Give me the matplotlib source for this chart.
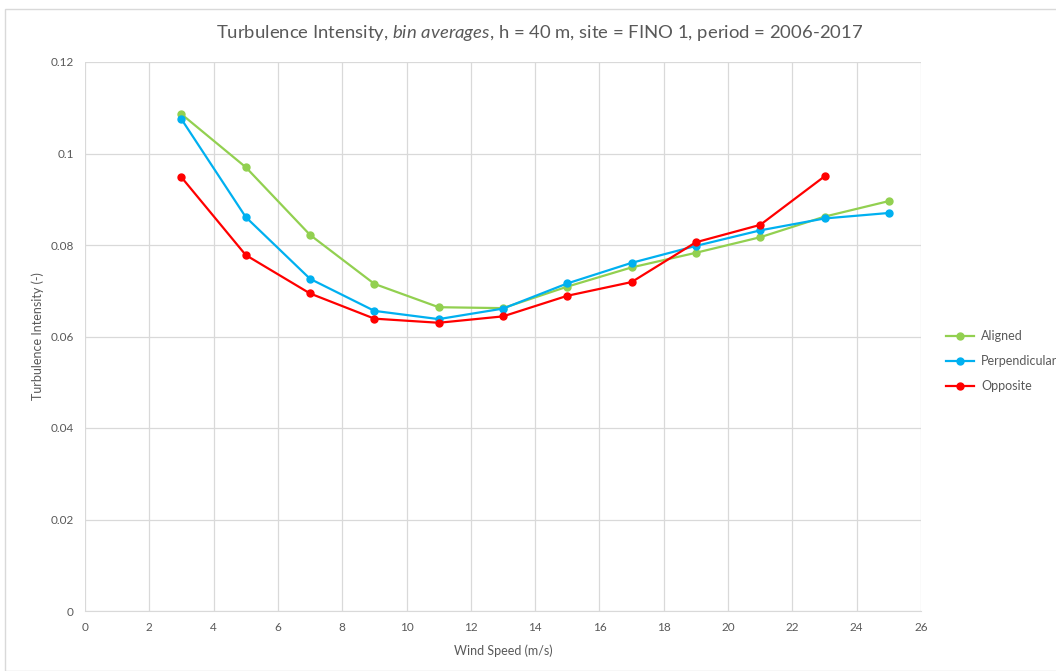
import matplotlib
matplotlib.use("Agg")
import matplotlib.pyplot as plt
from matplotlib.patches import Rectangle
from matplotlib.ticker import FuncFormatter

wind_speed = [3, 5, 7, 9, 11, 13, 15, 17, 19, 21, 23, 25]
aligned = [0.1086, 0.0970, 0.0822, 0.0715, 0.0664, 0.0662, 0.0709, 0.0751, 0.0783, 0.0817, 0.0862, 0.0896]
perpendicular = [0.1075, 0.0861, 0.0726, 0.0656, 0.0638, 0.0661, 0.0716, 0.0761, 0.0798, 0.0832, 0.0858, 0.0870]
opposite_ws = [3, 5, 7, 9, 11, 13, 15, 17, 19, 21, 23]
opposite = [0.0948, 0.0778, 0.0694, 0.0639, 0.0630, 0.0644, 0.0689, 0.0719, 0.0806, 0.0844, 0.0950]

x_ticks = list(range(0, 27, 2))
y_ticks = [0, 0.02, 0.04, 0.06, 0.08, 0.1, 0.12]

plt.rcParams['font.family'] = ['Lato', 'DejaVu Sans']
plt.rcParams['mathtext.fontset'] = 'custom'
plt.rcParams['mathtext.rm'] = 'Lato'
plt.rcParams['mathtext.it'] = 'Lato:italic'
text_color = '#595959'

fig = plt.figure(figsize=(10.56, 6.71), dpi=100)
fig.patches.append(Rectangle((5 / 1056, 0), 1.0, 1 - 9 / 671, transform=fig.transFigure,
                             fill=False, edgecolor='#D9D9D9', linewidth=1))
ax = fig.add_axes([85 / 1056, 1 - 611 / 671, (921 - 85) / 1056, (611 - 62) / 671])

series = [
    (wind_speed, aligned, '#92D050', 'Aligned'),
    (wind_speed, perpendicular, '#00B0F0', 'Perpendicular'),
    (opposite_ws, opposite, '#FF0000', 'Opposite'),
]
for xs, ys, color, label in series:
    ax.plot(xs, ys, color=color, linewidth=1.6, marker='o', markersize=5, label=label)

ax.set_xlim(0, 26)
ax.set_ylim(0, 0.12)
ax.set_xticks(x_ticks)
ax.set_yticks(y_ticks)
ax.yaxis.set_major_formatter(FuncFormatter(lambda v, p: '0' if v == 0 else f'{v:g}'))
ax.grid(True, color='#D9D9D9', linewidth=0.9)
ax.set_axisbelow(True)
for side in ['top', 'right', 'left']:
    ax.spines[side].set_visible(False)
ax.spines['bottom'].set_color('#D9D9D9')
ax.tick_params(length=0, labelsize=8.5, colors=text_color, pad=8)

ax.set_xlabel('Wind Speed (m/s)', fontsize=9, color=text_color, labelpad=8)
ax.set_ylabel('Turbulence Intensity (-)', fontsize=9, color=text_color, labelpad=5)

fig.text(540 / 1056, 1 - 33 / 671,
         r'Turbulence Intensity, $\it{bin\ averages}$, h = 40 m, site = FINO 1, period = 2006-2017',
         ha='center', va='center', fontsize=13.3, color=text_color)

fig.legend(loc='center left', bbox_to_anchor=(946 / 1056, 1 - 361 / 671), frameon=False,
           fontsize=9, labelcolor=text_color, handlelength=2.2, handletextpad=0.6,
           labelspacing=1.05, borderaxespad=0, borderpad=0)

fig.savefig('out.png', dpi=100)
